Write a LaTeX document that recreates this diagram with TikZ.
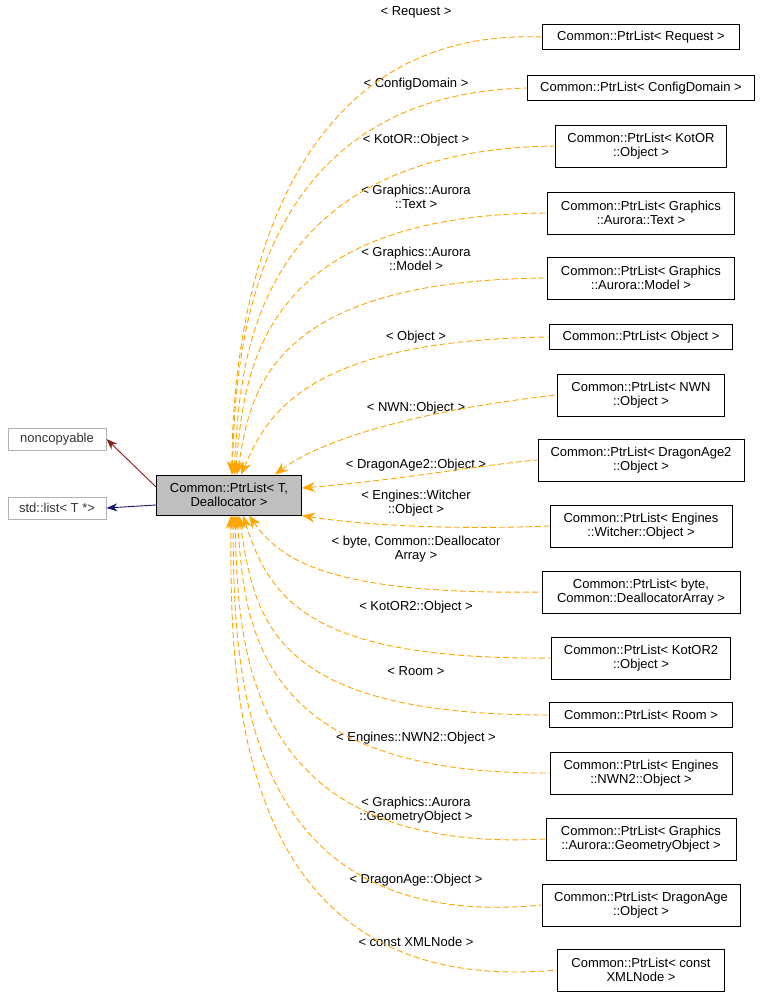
\documentclass[tikz,border=0pt]{standalone}
\usepackage{fontspec}
\setmainfont{Liberation Sans}
\usetikzlibrary{arrows.meta, positioning}
\definecolor{deporange}{HTML}{FFA500}
\definecolor{inhred}{HTML}{8B1A1A}
\definecolor{inhblue}{HTML}{191970}

\begin{document}
\begin{tikzpicture}[x=1pt, y=-1pt,
  every node/.style={font=\fontsize{13}{14.5}\selectfont},
  cls/.style={rectangle, draw=black, line width=0.9pt, fill=white, inner sep=2pt, align=center, minimum height=25pt},
  ext/.style={cls, draw=gray!60, text=black!80},
  lbl/.style={align=center, inner sep=0pt},
  dep/.style={{Stealth[length=13pt, width=10pt]}-, line width=0.9pt, dash pattern=on 6pt off 3pt, draw=deporange},
  inh/.style={-{Stealth[length=11pt, width=8pt]}, line width=0.9pt}
]
  \useasboundingbox (0,0) rectangle (761,1004);

  % Base class
  \node[cls, fill=black!25, minimum width=145pt, minimum height=40pt] (main) at (229,495) {Common::PtrList\textless{} T,\\Deallocator \textgreater};

  % Parents
  \node[ext, minimum width=98pt, minimum height=22pt] (noncopy) at (57,439) {noncopyable};
  \node[ext, minimum width=98pt, minimum height=22pt] (stdlist) at (57,508) {std::list\textless{} T *\textgreater};

  % Instances
  \node[cls, minimum width=197pt] (req) at (641,37) {Common::PtrList\textless{} Request \textgreater};
  \node[cls, minimum width=227pt] (cfg) at (641,88) {Common::PtrList\textless{} ConfigDomain \textgreater};
  \node[cls, minimum width=171pt, minimum height=42pt] (kotor) at (641,146) {Common::PtrList\textless{} KotOR\\::Object \textgreater};
  \node[cls, minimum width=187pt, minimum height=42pt] (text) at (641,213) {Common::PtrList\textless{} Graphics\\::Aurora::Text \textgreater};
  \node[cls, minimum width=187pt, minimum height=42pt] (model) at (641,278) {Common::PtrList\textless{} Graphics\\::Aurora::Model \textgreater};
  \node[cls, minimum width=183pt] (obj) at (641,337) {Common::PtrList\textless{} Object \textgreater};
  \node[cls, minimum width=167pt, minimum height=42pt] (nwn) at (641,395) {Common::PtrList\textless{} NWN\\::Object \textgreater};
  \node[cls, minimum width=206pt, minimum height=42pt] (da2) at (641,460) {Common::PtrList\textless{} DragonAge2\\::Object \textgreater};
  \node[cls, minimum width=182pt, minimum height=42pt] (witcher) at (641,526) {Common::PtrList\textless{} Engines\\::Witcher::Object \textgreater};
  \node[cls, minimum width=198pt, minimum height=42pt] (byte) at (641,592) {Common::PtrList\textless{} byte,\\ Common::DeallocatorArray \textgreater};
  \node[cls, minimum width=179pt, minimum height=42pt] (kotor2) at (641,658) {Common::PtrList\textless{} KotOR2\\::Object \textgreater};
  \node[cls, minimum width=183pt] (room) at (641,715) {Common::PtrList\textless{} Room \textgreater};
  \node[cls, minimum width=182pt, minimum height=42pt] (nwn2) at (641,773) {Common::PtrList\textless{} Engines\\::NWN2::Object \textgreater};
  \node[cls, minimum width=190pt, minimum height=42pt] (geom) at (641,839) {Common::PtrList\textless{} Graphics\\::Aurora::GeometryObject \textgreater};
  \node[cls, minimum width=198pt, minimum height=42pt] (da) at (641,905) {Common::PtrList\textless{} DragonAge\\::Object \textgreater};
  \node[cls, minimum width=167pt, minimum height=42pt] (xml) at (641,970) {Common::PtrList\textless{} const\\XMLNode \textgreater};

  % Labels
  \node[lbl] (lreq) at (416,12) {\textless{} Request \textgreater};
  \node[lbl] (lcfg) at (416,84) {\textless{} ConfigDomain \textgreater};
  \node[lbl] (lkotor) at (416,140) {\textless{} KotOR::Object \textgreater};
  \node[lbl] (ltext) at (416,197) {\textless{} Graphics::Aurora\\::Text \textgreater};
  \node[lbl] (lmodel) at (416,259) {\textless{} Graphics::Aurora\\::Model \textgreater};
  \node[lbl] (lobj) at (416,337) {\textless{} Object \textgreater};
  \node[lbl] (lnwn) at (416,408) {\textless{} NWN::Object \textgreater};
  \node[lbl] (lda2) at (416,465) {\textless{} DragonAge2::Object \textgreater};
  \node[lbl] (lwitcher) at (416,503) {\textless{} Engines::Witcher\\::Object \textgreater};
  \node[lbl] (lbyte) at (416,549) {\textless{} byte, Common::Deallocator\\Array \textgreater};
  \node[lbl] (lkotor2) at (416,607) {\textless{} KotOR2::Object \textgreater};
  \node[lbl] (lroom) at (416,671) {\textless{} Room \textgreater};
  \node[lbl] (lnwn2) at (416,738) {\textless{} Engines::NWN2::Object \textgreater};
  \node[lbl] (lgeom) at (416,810) {\textless{} Graphics::Aurora\\::GeometryObject \textgreater};
  \node[lbl] (lda) at (416,880) {\textless{} DragonAge::Object \textgreater};
  \node[lbl] (lxml) at (416,942) {\textless{} const XMLNode \textgreater};

  % Inheritance
  \draw[inh, draw=inhred] (main.west |- 0,487) -- (noncopy.east);
  \draw[inh, draw=inhblue] (main.west |- 0,505) -- (stdlist.east);

  % Template instances
  \draw[dep] ([xshift=3pt]main.north) .. controls (232,420) and (232,25) .. (req.west);
  \draw[dep] ([xshift=3pt]main.north) .. controls (236,380) and (236,95) .. (cfg.west);
  \draw[dep] ([xshift=5pt]main.north) .. controls (240,380) and (240,150) .. (kotor.west);
  \draw[dep] ([xshift=6pt]main.north) .. controls (245,380) and (250,215) .. (text.west);
  \draw[dep] ([xshift=8pt]main.north) .. controls (250,400) and (260,280) .. (model.west);
  \draw[dep] ([xshift=12pt]main.north) .. controls (265,420) and (300,340) .. (obj.west);
  \draw[dep] ([xshift=46pt]main.north) .. controls (320,440) and (420,410) .. (nwn.west);
  \draw[dep] (main.east |- 0,488) .. controls (400,480) and (480,465) .. (da2.west);
  \draw[dep] (main.south east) .. controls (360,525) and (450,530) .. (witcher.west);
  \draw[dep] ([xshift=20pt]main.south) .. controls (280,560) and (330,595) .. (byte.west);
  \draw[dep] ([xshift=14pt]main.south) .. controls (270,600) and (310,660) .. (kotor2.west);
  \draw[dep] ([xshift=10pt]main.south) .. controls (255,620) and (270,715) .. (room.west);
  \draw[dep] ([xshift=8pt]main.south) .. controls (245,620) and (250,775) .. (nwn2.west);
  \draw[dep] ([xshift=6pt]main.south) .. controls (238,640) and (240,855) .. (geom.west);
  \draw[dep] ([xshift=4pt]main.south) .. controls (234,660) and (234,935) .. (da.west);
  \draw[dep] ([xshift=2pt]main.south) .. controls (230,680) and (230,1000) .. (xml.west);
\end{tikzpicture}
\end{document}
